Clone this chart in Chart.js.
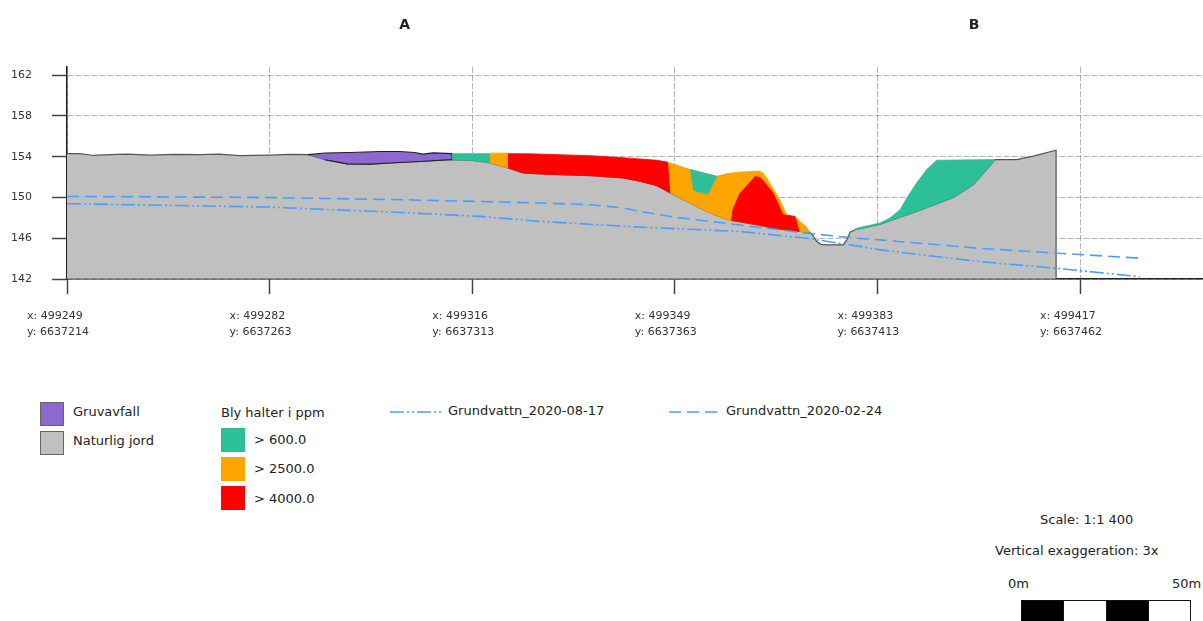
<!DOCTYPE html>
<html>
<head>
<meta charset="utf-8">
<script src="https://cdn.jsdelivr.net/npm/chart.js@4.4.1/dist/chart.umd.min.js"></script>
<style>
  body { margin: 0; width: 1203px; height: 621px; background: #fff; overflow: hidden; position: relative;
         font-family: "DejaVu Sans", Verdana, sans-serif; color: #222; }
  #wrap { position: absolute; left: 0; top: 0; width: 1203px; height: 360px; }
  .abs { position: absolute; white-space: nowrap; font-size: 13px; line-height: 16px; }
  .sw { position: absolute; width: 22px; height: 22px; border: 1px solid #666; }
  .bar { position: absolute; top: 600px; height: 22px; border: 1px solid #111; box-sizing: border-box; }
</style>
</head>
<body>
<div id="wrap"><canvas id="section"></canvas></div>

<!-- legend -->
<div class="sw" style="left:40px;top:402px;background:#8c68d0"></div>
<div class="abs" style="left:73px;top:404px">Gruvavfall</div>
<div class="sw" style="left:40px;top:431px;background:#c0c0c0"></div>
<div class="abs" style="left:73px;top:433px">Naturlig jord</div>

<div class="abs" style="left:221px;top:405px">Bly halter i ppm</div>
<div class="sw" style="left:221px;top:428px;background:#2cbf98;border-color:#2cbf98"></div>
<div class="abs" style="left:254px;top:432px">&gt; 600.0</div>
<div class="sw" style="left:221px;top:457px;background:#ffa500;border-color:#ffa500"></div>
<div class="abs" style="left:254px;top:461px">&gt; 2500.0</div>
<div class="sw" style="left:221px;top:486px;background:#ff0000;border-color:#ff0000"></div>
<div class="abs" style="left:254px;top:491px">&gt; 4000.0</div>

<svg style="position:absolute;left:388px;top:406px" width="56" height="12">
  <line x1="2" y1="6" x2="54" y2="6" stroke="#4a9eff" stroke-width="1.6" stroke-dasharray="14,3,2,3,2,3"/>
</svg>
<div class="abs" style="left:448px;top:403px">Grundvattn_2020-08-17</div>
<svg style="position:absolute;left:667px;top:406px" width="54" height="12">
  <line x1="2" y1="6" x2="52" y2="6" stroke="#4a9eff" stroke-width="1.6" stroke-dasharray="12,6"/>
</svg>
<div class="abs" style="left:726px;top:403px">Grundvattn_2020-02-24</div>

<!-- scale -->
<div class="abs" style="left:1040px;top:512px">Scale: 1:1 400</div>
<div class="abs" style="left:995px;top:543px">Vertical exaggeration: 3x</div>
<div class="abs" style="left:1008px;top:576px">0m</div>
<div class="abs" style="left:1172px;top:576px">50m</div>
<div class="bar" style="left:1021px;width:43px;background:#000"></div>
<div class="bar" style="left:1063px;width:44px;background:#fff"></div>
<div class="bar" style="left:1106px;width:43px;background:#000"></div>
<div class="bar" style="left:1148px;width:43px;background:#fff"></div>

<script>
// distance along the profile (m) and elevation (m)
const tickDistance = [0, 60, 120, 180, 240, 300];
const tickEast = ['x: 499249', 'x: 499282', 'x: 499316', 'x: 499349', 'x: 499383', 'x: 499417'];
const tickNorth = ['y: 6637214', 'y: 6637263', 'y: 6637313', 'y: 6637363', 'y: 6637413', 'y: 6637462'];
const elevTicks = [142, 146, 150, 154, 158, 162];

const sectionLabels = ['A', 'B'];
const sectionLabelAt = [100, 268.6];

// Naturlig jord (top of natural soil)
const naturalGround = [
  [0, 154.3], [3.9, 154.3], [7.7, 154.12], [12.7, 154.2], [18, 154.25], [24.6, 154.15],
  [32, 154.22], [39.4, 154.2], [45, 154.25], [51.2, 154.1], [60.1, 154.15], [66, 154.22],
  [71.4, 154.2], [76.4, 153.7], [83.0, 153.3], [89.7, 153.28], [95.6, 153.38], [104.5, 153.53],
  [114.0, 153.72], [120.2, 153.63], [125.3, 153.4], [130.6, 152.9], [135.0, 152.41],
  [140.1, 152.3], [145.1, 152.25], [154.9, 152.15], [164.6, 151.92], [169.7, 151.59],
  [174.7, 151.16], [178.7, 150.45], [184.5, 149.46], [189.4, 148.63], [194.3, 147.98],
  [196.8, 147.74], [204.2, 147.32], [209.1, 146.99], [215.0, 146.73], [220.0, 146.6],
  [221.0, 146.2], [222.0, 145.67], [223.3, 145.4], [224.9, 145.35], [229.9, 145.35],
  [230.9, 145.84], [231.5, 146.3], [231.9, 146.6], [233.4, 146.83], [240.8, 147.39],
  [251.6, 148.63], [262.5, 150.01], [268.4, 151.26], [272.3, 152.74], [274.8, 153.72],
  [276.3, 153.72], [281.2, 153.72], [286.1, 154.05], [292.9, 154.64], [292.9, 142], [0, 142],
];

// Gruvavfall
const mineWaste = [
  [71.4, 154.2], [76.4, 154.36], [83.8, 154.41], [92.7, 154.51], [98.6, 154.51], [103.0, 154.41],
  [105.4, 154.25], [108.4, 154.38], [114.0, 154.3], [114.0, 153.72], [104.5, 153.53],
  [95.6, 153.38], [89.7, 153.28], [83.0, 153.3], [76.4, 153.7],
];

// Bly halter > 600
const lead600a = [[114.0, 154.3], [125.3, 154.3], [125.3, 153.4], [120.2, 153.63], [114.0, 153.72]];
const lead600b = [[184.5, 152.74], [192.4, 152.08], [189.8, 150.34], [185.4, 150.7]];
const lead600c = [
  [233.4, 146.95], [240.8, 147.5], [243.7, 147.98], [246.7, 148.8], [248.7, 149.95], [251.6, 151.43],
  [254.6, 152.74], [257.5, 153.65], [274.8, 153.72], [272.3, 152.74], [268.4, 151.26],
  [262.5, 150.01], [251.6, 148.63], [240.8, 147.39], [233.4, 146.83],
];

// Bly halter > 2500
const lead2500a = [[125.3, 154.35], [130.6, 154.35], [130.6, 152.9], [125.3, 153.4]];
const lead2500b = [
  [178.0, 153.45], [184.5, 152.74], [192.4, 152.08], [195.4, 152.34], [199.5, 152.5], [203.7, 152.57],
  [205.2, 152.57], [206.1, 152.41], [207.2, 151.92], [211.1, 149.78], [213.1, 148.31],
  [216.1, 147.98], [217.1, 147.65], [219.0, 147.09], [220.0, 146.6], [215.0, 146.73],
  [209.1, 146.99], [204.2, 147.32], [196.8, 147.74], [194.3, 147.98], [189.4, 148.63],
  [184.5, 149.46], [178.7, 150.45],
];

// Bly halter > 4000
const lead4000a = [
  [130.6, 154.3], [137.1, 154.28], [145.1, 154.2], [154.9, 154.1], [164.6, 153.9], [174.7, 153.65],
  [178.0, 153.45], [178.7, 150.45], [174.7, 151.16], [169.7, 151.59], [164.6, 151.92],
  [154.9, 152.15], [145.1, 152.25], [140.1, 152.3], [135.0, 152.41], [130.6, 152.9],
];
const lead4000b = [
  [203.7, 152.06], [205.4, 151.92], [209.1, 150.44], [212.0, 148.31], [215.6, 148.14],
  [216.8, 146.66], [215.0, 146.73], [209.1, 146.99], [204.2, 147.32], [196.8, 147.74],
  [197.2, 148.8], [199.3, 150.44],
];

// groundwater levels
const gw20200817 = [
  [0, 149.39], [59.2, 149.06], [98.6, 148.53], [122.3, 148.14], [140.1, 147.65], [169.7, 147.09],
  [199.3, 146.66], [219.0, 146.0], [233.8, 145.25], [240.8, 144.86], [270.4, 143.7],
  [293.1, 143.05], [317.7, 142.23],
];
const gw20200224 = [
  [0, 150.1], [59.2, 150.0], [98.6, 149.78], [122.3, 149.6], [140.1, 149.46], [154.9, 149.29],
  [164.6, 148.97], [169.7, 148.63], [179.5, 148.08], [194.3, 147.49], [209.1, 146.9],
  [219.0, 146.5], [233.8, 146.0], [240.8, 145.84], [270.4, 145.0], [290.1, 144.6], [317.7, 144.04],
];

const pts = (arr) => arr.map(([x, y]) => ({ x, y }));

const patch = (label, arr, color, border, width) => ({
  label,
  data: pts(arr),
  backgroundColor: color,
  borderColor: border || color,
  borderWidth: width === undefined ? 0.8 : width,
  fill: 'shape',
  pointRadius: 0,
});

const water = (label, arr, dash) => ({
  label,
  data: pts(arr),
  borderColor: '#4a9eff',
  borderWidth: 1.6,
  borderDash: dash,
  fill: false,
  pointRadius: 0,
});

const sectionLabelPlugin = {
  id: 'sectionLabels',
  afterDraw(chart) {
    const { ctx } = chart;
    const xs = chart.scales.x;
    ctx.save();
    ctx.font = 'bold 14px "DejaVu Sans"';
    ctx.fillStyle = '#222';
    ctx.textAlign = 'center';
    ctx.textBaseline = 'middle';
    sectionLabels.forEach((t, i) => ctx.fillText(t, xs.getPixelForValue(sectionLabelAt[i]), 25));
    ctx.restore();
  },
};

const gridOpts = {
  color: 'rgba(120,120,120,0.55)',
  lineWidth: 1,
  tickLength: 15,
  tickColor: '#444',
  tickWidth: 1.5,
  tickBorderDash: [],
};

const ctx = document.getElementById('section');
// eslint-disable-next-line no-unused-vars
const chart = new Chart(ctx, {
  type: 'line',
  data: {
    datasets: [
      water('Grundvattn_2020-08-17', gw20200817, [14, 3, 2, 3, 2, 3]),
      water('Grundvattn_2020-02-24', gw20200224, [12, 6]),
      patch('> 4000.0', lead4000b, '#ff0000'),
      patch('> 600.0', lead600b, '#2cbf98'),
      patch('> 2500.0', lead2500b, '#ffa500'),
      patch('> 4000.0', lead4000a, '#ff0000'),
      patch('> 2500.0', lead2500a, '#ffa500'),
      patch('> 600.0', lead600a, '#2cbf98'),
      patch('Gruvavfall', mineWaste, '#8c68d0', '#222', 1.2),
      patch('> 600.0', lead600c, '#2cbf98'),
      patch('Naturlig jord', naturalGround, '#c0c0c0', '#555', 1.2),
    ],
  },
  options: {
    responsive: true,
    maintainAspectRatio: false,
    animation: false,
    layout: { padding: { top: 67, left: 0, right: 0, bottom: 0 } },
    elements: { line: { tension: 0 }, point: { radius: 0 } },
    scales: {
      x: {
        type: 'linear',
        min: 0,
        max: 336.4,
        z: 1,
        afterFit: (scale) => { scale.height = 81; },
        afterBuildTicks: (scale) => { scale.ticks = tickDistance.map((v) => ({ value: v })); },
        grid: gridOpts,
        border: { display: true, color: '#222', width: 1.5, dash: [6, 2] },
        ticks: {
          align: 'start',
          labelOffset: -40,
          padding: 14,
          maxRotation: 0,
          autoSkip: false,
          color: '#333',
          font: { family: 'DejaVu Sans', size: 11, lineHeight: 1.45 },
          callback: (value, index) => [tickEast[index], tickNorth[index]],
        },
      },
      y: {
        type: 'linear',
        min: 142,
        max: 162.8,
        z: 1,
        afterFit: (scale) => { scale.width = 67; },
        afterBuildTicks: (scale) => { scale.ticks = elevTicks.map((v) => ({ value: v })); },
        grid: gridOpts,
        border: { display: true, color: '#222', width: 1.5, dash: [6, 2] },
        ticks: {
          padding: 20,
          color: '#333',
          font: { family: 'DejaVu Sans', size: 11 },
          callback: (value) => String(value),
        },
      },
    },
    plugins: {
      legend: { display: false },
      tooltip: { enabled: false },
    },
  },
  plugins: [sectionLabelPlugin],
});
</script>
</body>
</html>
